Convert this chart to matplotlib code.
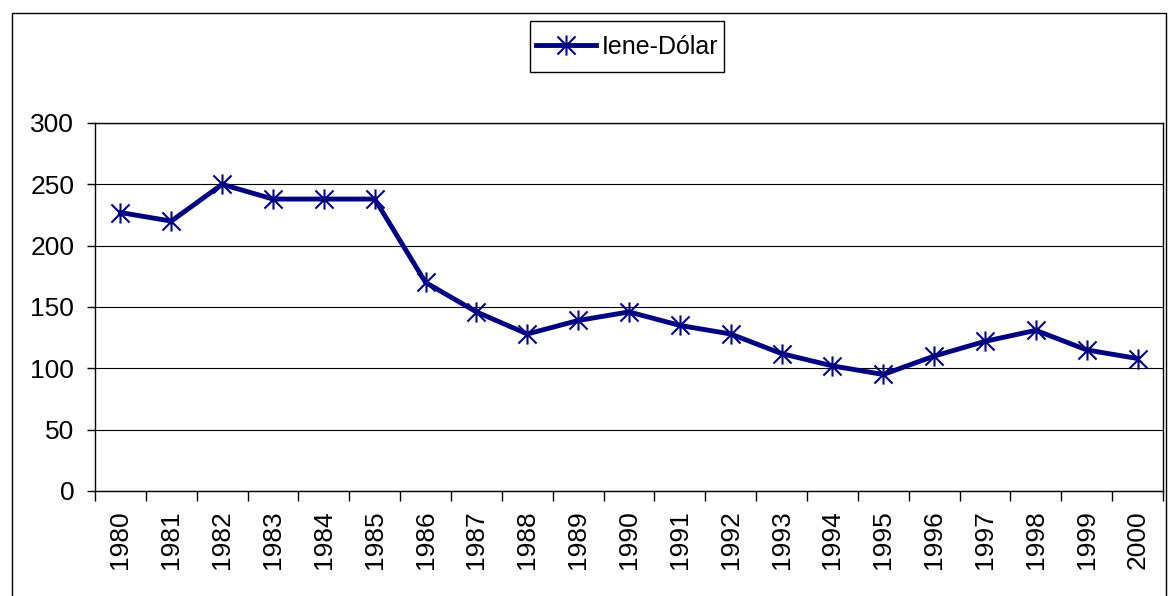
import matplotlib
matplotlib.use("Agg")
import matplotlib.pyplot as plt
from matplotlib.path import Path
from matplotlib.patches import Rectangle
import numpy as np

years = [str(y) for y in range(1980, 2001)]
iene_dolar = [227, 220, 250, 238, 238, 238, 170, 146, 128, 139, 146, 135, 128, 112, 102, 95, 110, 122, 131, 115, 108]
yticks = [0, 50, 100, 150, 200, 250, 300]
series_label = "Iene-Dólar"

plt.rcParams['font.family'] = ['Liberation Sans', 'DejaVu Sans']

W, H = 1168, 596

# Excel-style star marker: X plus vertical line
star = Path(
    [(-0.45, -0.45), (0.45, 0.45), (-0.45, 0.45), (0.45, -0.45), (0, -0.5), (0, 0.5)],
    [Path.MOVETO, Path.LINETO, Path.MOVETO, Path.LINETO, Path.MOVETO, Path.LINETO],
)

fig = plt.figure(figsize=(W / 100, H / 100), dpi=100)
# outer chart border
fig.patches.append(Rectangle((12 / W, -0.1), (1166 - 12) / W, (H - 13) / H + 0.1,
                             transform=fig.transFigure, fill=False, edgecolor='black', lw=1.0))

ax = fig.add_axes([95 / W, (H - 491) / H, (1163 - 95) / W, (491 - 123) / H])
x = np.arange(len(years))
line, = ax.plot(x, iene_dolar, color='#000080', lw=3.5, marker=star, markersize=14.5,
                markeredgewidth=1.5, markeredgecolor='#000080', markerfacecolor='none',
                label=series_label, zorder=3)

ax.set_xlim(-0.5, len(years) - 0.5)
ax.set_ylim(0, 300)
ax.set_yticks(yticks)
ax.set_yticklabels([str(v) for v in yticks], fontsize=19)
ax.set_xticks(x)
ax.set_xticklabels(years, rotation=90, fontsize=19)
ax.tick_params(axis='x', which='major', length=0, pad=14)
ax.set_xticks(np.arange(-0.5, len(years), 1.0), minor=True)
ax.tick_params(axis='x', which='minor', length=7, width=1, direction='out')
ax.tick_params(axis='y', length=6, width=1, direction='out', pad=9)
ax.yaxis.grid(True, color='#000000', lw=0.8)
ax.set_axisbelow(True)
for s in ['left', 'bottom', 'right', 'top']:
    ax.spines[s].set_color('black')
    ax.spines[s].set_linewidth(1.0)

# legend frame drawn manually to match the reference box
fig.patches.append(Rectangle((530 / W, (H - 72) / H), (724 - 530) / W, (72 - 21) / H,
                             transform=fig.transFigure, facecolor='white', edgecolor='black',
                             lw=1.0, zorder=5))
leg = fig.legend(handles=[line], loc='center', bbox_to_anchor=(627 / W, (H - 46.5) / H),
                 fontsize=18, frameon=False, handlelength=2.4, handletextpad=0.25,
                 borderpad=0.2)
leg.set_zorder(6)

fig.savefig('out.png', dpi=100)
